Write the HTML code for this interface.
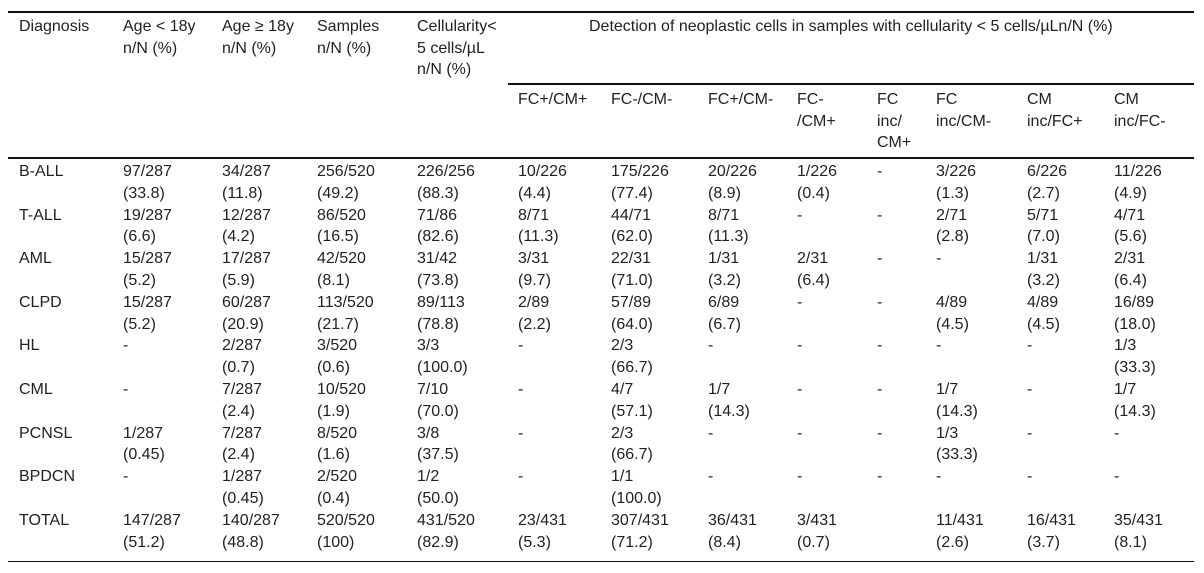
<!DOCTYPE html>
<html><head><meta charset="utf-8">
<style>
html,body{margin:0;padding:0;background:#fff;}
#t{position:relative;width:1204px;height:573px;overflow:hidden;font-family:"Liberation Sans",Arial,sans-serif;font-size:16px;color:#222;line-height:21.7px;}
.c{position:absolute;white-space:pre;}
.ln{position:absolute;height:1px;background:#111;}
</style></head><body>
<div id="t">
<div class="ln" style="left:8px;top:11px;width:1186px;height:1.5px"></div>
<div class="ln" style="left:508px;top:83px;width:686px;height:1.5px"></div>
<div class="ln" style="left:8px;top:157px;width:1186px;height:1.5px"></div>
<div class="ln" style="left:8px;top:561px;width:1186px"></div>
<div class="c" style="left:589px;top:16px">Detection of neoplastic cells in samples with cellularity &lt; 5 cells/µLn/N (%)</div>
</div>
<script>
const xs=[19,123,222,317,417,518,611,708,797,877,936,1027,1114];
const head=["Diagnosis","Age < 18y\nn/N (%)","Age ≥ 18y\nn/N (%)","Samples\nn/N (%)","Cellularity<\n5 cells/µL\nn/N (%)"];
const sub=["FC+/CM+","FC-/CM-","FC+/CM-","FC-\n/CM+","FC\ninc/\nCM+","FC\ninc/CM-","CM\ninc/FC+","CM\ninc/FC-"];
const rows=[
["B-ALL","97/287\n(33.8)","34/287\n(11.8)","256/520\n(49.2)","226/256\n(88.3)","10/226\n(4.4)","175/226\n(77.4)","20/226\n(8.9)","1/226\n(0.4)","-","3/226\n(1.3)","6/226\n(2.7)","11/226\n(4.9)"],
["T-ALL","19/287\n(6.6)","12/287\n(4.2)","86/520\n(16.5)","71/86\n(82.6)","8/71\n(11.3)","44/71\n(62.0)","8/71\n(11.3)","-","-","2/71\n(2.8)","5/71\n(7.0)","4/71\n(5.6)"],
["AML","15/287\n(5.2)","17/287\n(5.9)","42/520\n(8.1)","31/42\n(73.8)","3/31\n(9.7)","22/31\n(71.0)","1/31\n(3.2)","2/31\n(6.4)","-","-","1/31\n(3.2)","2/31\n(6.4)"],
["CLPD","15/287\n(5.2)","60/287\n(20.9)","113/520\n(21.7)","89/113\n(78.8)","2/89\n(2.2)","57/89\n(64.0)","6/89\n(6.7)","-","-","4/89\n(4.5)","4/89\n(4.5)","16/89\n(18.0)"],
["HL","-","2/287\n(0.7)","3/520\n(0.6)","3/3\n(100.0)","-","2/3\n(66.7)","-","-","-","-","-","1/3\n(33.3)"],
["CML","-","7/287\n(2.4)","10/520\n(1.9)","7/10\n(70.0)","-","4/7\n(57.1)","1/7\n(14.3)","-","-","1/7\n(14.3)","-","1/7\n(14.3)"],
["PCNSL","1/287\n(0.45)","7/287\n(2.4)","8/520\n(1.6)","3/8\n(37.5)","-","2/3\n(66.7)","-","-","-","1/3\n(33.3)","-","-"],
["BPDCN","-","1/287\n(0.45)","2/520\n(0.4)","1/2\n(50.0)","-","1/1\n(100.0)","-","-","-","-","-","-"],
["TOTAL","147/287\n(51.2)","140/287\n(48.8)","520/520\n(100)","431/520\n(82.9)","23/431\n(5.3)","307/431\n(71.2)","36/431\n(8.4)","3/431\n(0.7)","","11/431\n(2.6)","16/431\n(3.7)","35/431\n(8.1)"]
];
const t=document.getElementById('t');
function cell(txt,x,y){const d=document.createElement('div');d.className='c';d.style.left=x+'px';d.style.top=y+'px';d.textContent=txt;t.appendChild(d);return d;}
head.forEach((h,i)=>{const d=cell(h,xs[i],16);

});
sub.forEach((h,i)=>{const d=cell(h,xs[i+5],89);

});
rows.forEach((r,ri)=>{const y=161+ri*43.6;r.forEach((v,ci)=>{const d=cell(v,xs[ci],y);

});});
</script>
</body></html>
